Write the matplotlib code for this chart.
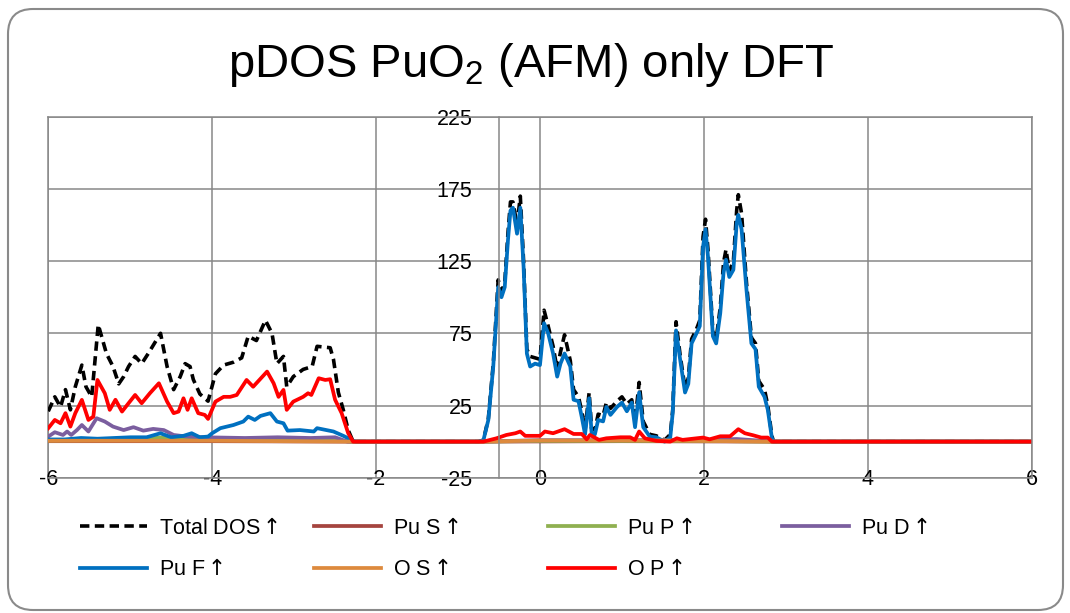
import matplotlib
matplotlib.use('Agg')
import matplotlib.pyplot as plt
from matplotlib.patches import FancyBboxPatch

plt.rcParams['font.family'] = ['Liberation Sans', 'DejaVu Sans']
plt.rcParams['mathtext.fontset'] = 'custom'
plt.rcParams['mathtext.rm'] = 'Liberation Sans'
plt.rcParams['mathtext.it'] = 'Liberation Sans'
plt.rcParams['mathtext.sf'] = 'DejaVu Sans'

# ---- data (energy in eV, DOS) ----
total_x = [-6.0, -5.92, -5.85, -5.79, -5.73, -5.67, -5.59, -5.54, -5.47, -5.39, -5.29, -5.21,
           -5.14, -5.08, -5.02, -4.94, -4.86, -4.78, -4.63, -4.55, -4.47, -4.39, -4.33, -4.27,
           -4.23, -4.15, -4.05, -3.96, -3.86, -3.74, -3.64, -3.56, -3.46, -3.35, -3.27, -3.21,
           -3.13, -3.09, -3.01, -2.89, -2.78, -2.72, -2.56, -2.52, -2.46, -2.40, -2.34, -2.28,
           -0.75, -0.69, -0.63, -0.57, -0.51, -0.47, -0.43, -0.39, -0.36, -0.33, -0.28, -0.24,
           -0.20, -0.16, -0.12, -0.06, 0.0, 0.05, 0.10, 0.16, 0.21, 0.25, 0.30, 0.37, 0.41,
           0.47, 0.51, 0.55, 0.60, 0.63, 0.67, 0.71, 0.77, 0.81, 0.86, 0.94, 1.00, 1.06, 1.12,
           1.16, 1.21, 1.26, 1.34, 1.42, 1.52, 1.59, 1.62, 1.66, 1.71, 1.77, 1.81, 1.85, 1.91,
           1.95, 1.99, 2.02, 2.05, 2.11, 2.15, 2.20, 2.24, 2.27, 2.31, 2.36, 2.40, 2.42, 2.46,
           2.52, 2.58, 2.63, 2.67, 2.74, 2.78, 2.83, 2.85, 6.0]
total_y = [21, 31, 24, 36, 22, 38, 53, 38, 31, 81, 61, 52,
           40, 45, 52, 59, 54, 61, 75, 52, 36, 45, 54, 52,
           43, 33, 28, 47, 53, 55, 58, 73, 70, 84, 75, 54,
           59, 38, 45, 50, 52, 66, 65, 57, 34, 22, 8, 0,
           0, 1, 16, 54, 112, 104, 110, 145, 166, 166, 150, 170,
           125, 64, 59, 58, 57, 91, 80, 66, 50, 62, 74, 56, 36,
           31, 21, 8, 34, 9, 8, 19, 18, 27, 23, 28, 31, 26, 29,
           14, 41, 14, 5, 4, 1, 5, 22, 83, 60, 37, 44, 71, 78,
           84, 142, 154, 133, 76, 71, 93, 124, 133, 118, 125, 160, 171, 158,
           110, 72, 68, 42, 36, 25, 4, 0, 0]

pu_s_x = [-6.0, -4.0, -2.3, -0.7, 1.0, 2.85, 6.0]
pu_s_y = [0.3, 0.3, 0.0, 0.0, 0.3, 0.0, 0.0]

pu_p_x = [-6.0, -5.5, -5.0, -4.7, -4.6, -4.4, -4.0, -3.5, -3.0, -2.5, -2.3, -0.7, 0.0, 1.0, 2.0, 2.85, 6.0]
pu_p_y = [0.8, 1.0, 1.5, 2.5, 3.0, 2.0, 1.5, 1.5, 1.2, 1.0, 0.0, 0.0, 0.5, 0.5, 0.5, 0.0, 0.0]

pu_d_x = [-6.0, -5.92, -5.82, -5.77, -5.72, -5.65, -5.59, -5.51, -5.41, -5.31, -5.21, -5.08,
          -4.96, -4.84, -4.72, -4.59, -4.47, -4.31, -4.1, -3.6, -3.2, -2.8, -2.5, -2.35,
          -0.7, 0.0, 1.0, 2.0, 2.4, 2.85, 6.0]
pu_d_y = [3.5, 6.5, 4.6, 7, 4.6, 8, 11.5, 7, 16.2, 13.9, 10.4, 8,
          10, 7.6, 8.8, 8, 4.6, 3.5, 3, 2.5, 3, 2.5, 3, 0,
          0, 1, 1, 1.2, 1.8, 0, 0]

pu_f_x = [-6.0, -5.8, -5.6, -5.4, -5.2, -5.0, -4.8, -4.63, -4.5, -4.35, -4.25, -4.15, -4.05,
          -4.0, -3.90, -3.74, -3.62, -3.56, -3.48, -3.41, -3.29, -3.21, -3.13, -3.08, -2.93,
          -2.76, -2.72, -2.52, -2.40, -2.30, -2.25,
          -0.75, -0.69, -0.63, -0.57, -0.51, -0.47, -0.43, -0.39, -0.36, -0.33, -0.28, -0.24,
          -0.20, -0.16, -0.12, -0.06, 0.0, 0.05, 0.10, 0.16, 0.21, 0.25, 0.30, 0.37, 0.41,
          0.47, 0.51, 0.55, 0.60, 0.63, 0.67, 0.71, 0.77, 0.81, 0.86, 0.94, 1.00, 1.06, 1.12,
          1.16, 1.21, 1.26, 1.34, 1.42, 1.52, 1.59, 1.62, 1.66, 1.71, 1.77, 1.81, 1.85, 1.91,
          1.95, 1.99, 2.02, 2.05, 2.11, 2.15, 2.20, 2.24, 2.27, 2.31, 2.36, 2.40, 2.42, 2.46,
          2.52, 2.58, 2.63, 2.67, 2.74, 2.78, 2.83, 2.85, 6.0]
pu_f_y = [1.5, 1.5, 2.5, 2, 2.5, 3, 3, 5.8, 3, 4, 5.8, 3, 3.5,
          5.8, 9.3, 11.5, 13.9, 17.3, 15, 17.8, 19.7, 13.9, 12.7, 7.6, 8,
          7, 9.3, 7, 4, 1.2, 0,
          0, 1, 15, 52, 107, 100, 107, 140, 160, 162, 144, 162,
          121, 61, 52, 54, 53, 82, 75, 61, 45, 54, 61, 52, 29,
          28, 17, 5, 30, 6, 5, 15, 14, 24, 18.5, 24, 27, 21, 27,
          10, 34, 10, 3.5, 3, 0, 3, 20, 77, 57, 34, 40, 68, 75,
          80, 135, 147, 128, 73, 68, 89, 117, 126, 114, 119, 151, 157, 147,
          105, 68, 64, 38, 31, 22, 2.4, 0, 0]

o_s_x = [-6.0, -4.0, -2.3, -0.7, 0.0, 1.5, 2.85, 6.0]
o_s_y = [0.6, 0.6, 0.0, 0.0, 0.8, 0.8, 0.0, 0.0]

o_p_x = [-6.0, -5.92, -5.85, -5.79, -5.73, -5.67, -5.59, -5.51, -5.45, -5.40, -5.31, -5.25,
         -5.18, -5.10, -5.02, -4.94, -4.86, -4.76, -4.65, -4.55, -4.47, -4.41, -4.35, -4.30,
         -4.25, -4.17, -4.09, -4.05, -3.96, -3.86, -3.78, -3.70, -3.58, -3.50, -3.33, -3.25,
         -3.19, -3.13, -3.09, -3.01, -2.89, -2.83, -2.79, -2.70, -2.62, -2.56, -2.50, -2.42,
         -2.34, -2.28, -0.69, -0.53, -0.41, -0.30, -0.24, -0.18, 0.0, 0.06, 0.16, 0.30, 0.41,
         0.51, 0.57, 0.61, 0.72, 0.81, 0.98, 1.10, 1.16, 1.21, 1.28, 1.42, 1.59, 1.67, 1.74,
         1.99, 2.07, 2.20, 2.32, 2.42, 2.50, 2.60, 2.70, 2.78, 2.83, 6.0]
o_p_y = [9.3, 15, 12.7, 19.7, 10.4, 19.7, 28.9, 15, 17.3, 42.7, 33.5, 22,
         29, 20.8, 26.6, 32.3, 26.6, 33.5, 40.4, 27.7, 19.7, 20.8, 30, 22,
         30, 19.7, 18.5, 15.7, 27.7, 31, 31, 32.3, 42.7, 38, 48.5, 40.4,
         31, 35.8, 22, 27.7, 31, 33.5, 32.3, 43.9, 42.7, 43.2, 29, 19.7,
         5.8, 0, 0, 2.3, 4.6, 5.8, 7, 4, 4, 7, 5.8, 8.6, 5.3,
         5.3, 1.6, 4.6, 1.2, 2.3, 3, 3, 1.2, 7, 2.3, 0.5, 0, 2.3, 1.2,
         2.8, 1.6, 3.7, 3.7, 8.6, 5.8, 4.4, 2.8, 2.8, 0, 0]

arrow = r'$\mathsf{\uparrow}$'
labels = ['Total DOS' + arrow, 'Pu S' + arrow, 'Pu P' + arrow, 'Pu D' + arrow,
          'Pu F' + arrow, 'O S' + arrow, 'O P' + arrow]
colors = ['black', '#A5443F', '#8FB050', '#7B5E9F', '#0070C0', '#DD8A3D', '#FF0000']

x_ticks = [-6, -4, -2, 0, 2, 4, 6]
y_ticks = [-25, 25, 75, 125, 175, 225]

fig = plt.figure(figsize=(10.7, 6.13), dpi=100)

# rounded frame around the whole chart
frame = FancyBboxPatch((0.08, 0.03), 10.55, 6.01, boxstyle='round,pad=0,rounding_size=0.25',
                       transform=fig.dpi_scale_trans, facecolor='white', edgecolor='#8a8a8a',
                       linewidth=1.5, zorder=-10)
fig.patches.append(frame)

ax = fig.add_axes([0.0451, 0.2207, 0.9191, 0.5889])
ax.set_facecolor('none')

series = [(total_x, total_y), (pu_s_x, pu_s_y), (pu_p_x, pu_p_y), (pu_d_x, pu_d_y),
          (pu_f_x, pu_f_y), (o_s_x, o_s_y), (o_p_x, o_p_y)]
handles = []
for i, (xs, ys) in enumerate(series):
    if i == 0:
        h, = ax.plot(xs, ys, color=colors[i], lw=2.6, dashes=(2.6, 1.5), label=labels[i])
    else:
        h, = ax.plot(xs, ys, color=colors[i], lw=2.7, label=labels[i],
                     solid_joinstyle='round')
    handles.append(h)

ax.set_xlim(-6, 6)
ax.set_ylim(-25, 225)
ax.set_xticks(x_ticks)
ax.set_yticks(y_ticks)
ax.set_xticklabels([str(t) for t in x_ticks])
ax.set_yticklabels([str(t) for t in y_ticks])
ax.set_axisbelow(True)
grid_c = '#878787'
ax.grid(True, color=grid_c, lw=1.1)
for s in ['top', 'right', 'bottom', 'left']:
    ax.spines[s].set_color(grid_c)
    ax.spines[s].set_linewidth(1.1)
ax.spines['left'].set_position(('data', -0.5))
ax.axvline(-6, color=grid_c, lw=1.1, clip_on=False, zorder=0.5)
ax.tick_params(axis='x', length=0, pad=-6, labelsize=15.5)
ax.tick_params(axis='y', length=0, pad=19, labelsize=15.5)

fig.text(0.496, 0.875, 'pDOS PuO$_2$ (AFM) only DFT', ha='center', va='baseline', fontsize=34)

# legend: 4 equally spaced columns, row-major order
col_x = [80, 314, 548, 782]
cols = [[0, 4], [1, 5], [2, 6], [3]]
for cx, idx in zip(col_x, cols):
    lg = fig.legend([handles[k] for k in idx], [labels[k] for k in idx],
                    loc='upper left', bbox_to_anchor=(cx / 1070, 1 - 518 / 613),
                    frameon=False, fontsize=15.5, handlelength=3.1, handletextpad=0.55,
                    labelspacing=0.95, borderpad=0, borderaxespad=0)

fig.savefig('out.png', dpi=100)
